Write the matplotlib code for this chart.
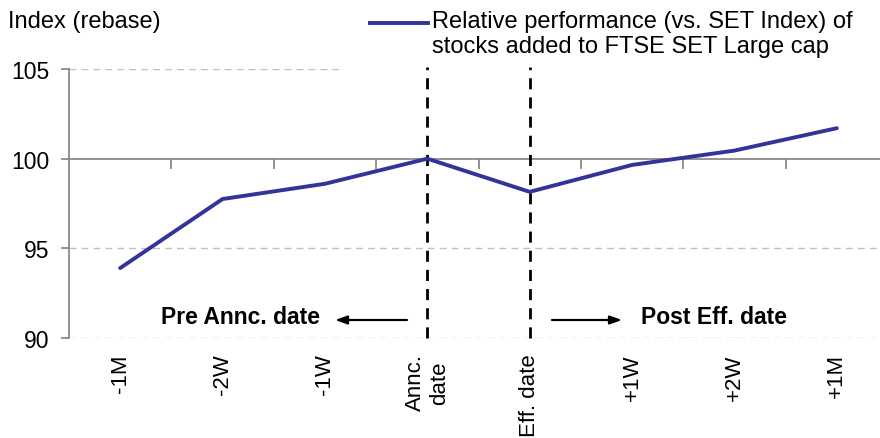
import matplotlib
matplotlib.use("Agg")
import matplotlib.pyplot as plt
from matplotlib.lines import Line2D
import numpy as np

categories = ["-1M", "-2W", "-1W", "Annc.\ndate", "Eff. date", "+1W", "+2W", "+1M"]
values = [93.9, 97.75, 98.6, 100.0, 98.15, 99.65, 100.45, 101.7]
yticks = [90, 95, 100, 105]
series_label = "Relative performance (vs. SET Index) of\nstocks added to FTSE SET Large cap"
ylabel = "Index (rebase)"
event_idx = [3, 4]
pre_label = "Pre Annc. date"
post_label = "Post Eff. date"

plt.rcParams['font.family'] = ['Liberation Sans', 'DejaVu Sans']

W, H = 880, 439
fig = plt.figure(figsize=(W / 100, H / 100), dpi=100)
ax_left, ax_right, ax_top, ax_bot = 69, 888, 70, 339
ax = fig.add_axes([ax_left / W, 1 - ax_bot / H, (ax_right - ax_left) / W, (ax_bot - ax_top) / H])
ax.set_xlim(-0.5, len(categories) - 0.5)
ax.set_ylim(90, 105)

x = np.arange(len(categories))
line_color = "#333399"
grid_color = "#c0c0c0"
axis_color = "#808080"

# gridlines
for yt in yticks:
    if yt == 100:
        continue
    xmax = 1.0 if yt != 105 else (340 - ax_left) / (ax_right - ax_left)
    ax.axhline(yt, xmin=0, xmax=xmax, color=grid_color, lw=1, dashes=(5, 3.6), zorder=1)

# category axis crossing at 100
ax.axhline(100, color=axis_color, lw=1.2, zorder=2)
bounds = np.arange(len(categories)) + 0.5
ax.plot(bounds, [100] * len(bounds), ls='none', marker=3, ms=7, mew=1.2,
        color=axis_color, zorder=2, clip_on=False)

# event lines
for i in event_idx:
    ax.axvline(x[i], ymin=0, ymax=1.008, color='black', lw=2, dashes=(4, 2.9), zorder=3, clip_on=False)

ax.plot(x, values, color=line_color, lw=2.8, zorder=4, solid_joinstyle='round',
        solid_capstyle='round')

for s in ['top', 'right', 'bottom']:
    ax.spines[s].set_visible(False)
ax.spines['left'].set_color(axis_color)
ax.spines['left'].set_linewidth(1.2)

ax.set_yticks(yticks)
ax.set_yticklabels([str(v) for v in yticks], fontsize=16.5)
ax.tick_params(axis='y', direction='out', length=6, width=1.2, color=axis_color, pad=8)
ax.set_xticks(x)
ax.set_xticklabels(categories, rotation=90, fontsize=16, multialignment='center')
ax.tick_params(axis='x', length=0, pad=11)

# annotations
bold = dict(fontsize=16.5, fontweight='bold', family=['Liberation Sans Narrow', 'Liberation Sans', 'DejaVu Sans'])
def px2x(px):
    return (px - ax_left) / (ax_right - ax_left) * len(categories) - 0.5
def px2y(py):
    return 90 + (ax_bot - py) / (ax_bot - ax_top) * 15

ax.text(px2x(240), px2y(318), pre_label, ha='center', va='center', **bold)
ax.text(px2x(714), px2y(318), post_label, ha='center', va='center', **bold)
arrowprops = dict(arrowstyle='-|>,head_length=0.7,head_width=0.25', color='black', lw=1.6,
                  shrinkA=0, shrinkB=0)
ax.annotate('', xy=(px2x(335), px2y(321)), xytext=(px2x(407), px2y(321)), arrowprops=arrowprops)
ax.annotate('', xy=(px2x(622), px2y(321)), xytext=(px2x(552), px2y(321)), arrowprops=arrowprops)

# legend
fig.add_artist(Line2D([370 / W, 428 / W], [1 - 24 / H] * 2, color=line_color, lw=2.8))
fig.text(432 / W, 1 - 11 / H, series_label, fontsize=17, va='top', ha='left', linespacing=1.15)

fig.text(8 / W, 1 - 22 / H, ylabel, fontsize=17, va='center', ha='left')

fig.savefig("out.png", dpi=100)
